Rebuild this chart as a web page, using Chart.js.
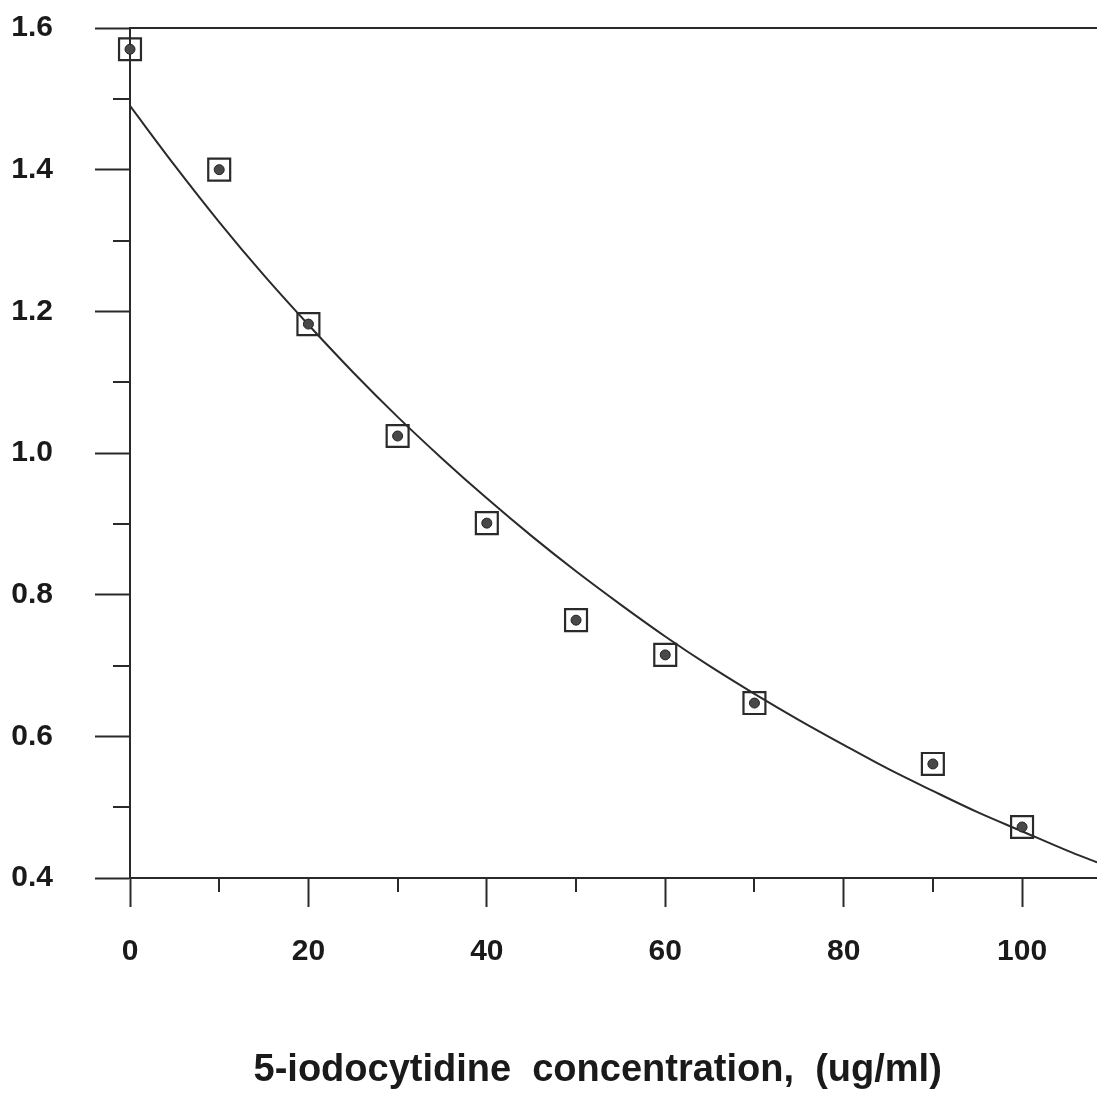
<!DOCTYPE html>
<html>
<head>
<meta charset="utf-8">
<script src="https://cdn.jsdelivr.net/npm/chart.js@4.4.1/dist/chart.umd.min.js"></script>
<style>
  html, body { margin: 0; padding: 0; background: #fff; }
  #wrap { width: 1097px; height: 1093px; }
</style>
</head>
<body>
<div id="wrap"><canvas id="grafico"></canvas></div>
<script>
// measured points
const concentracao = [0, 10, 20, 30, 40, 50, 60, 70, 90, 100];
const absorbancia = [1.570, 1.400, 1.182, 1.024, 0.901, 0.764, 0.715, 0.647, 0.561, 0.472];

// fitted curve
const curvaX = [0, 5, 10, 15, 20, 25, 30, 35, 40, 45, 50, 55, 60, 65, 70, 75, 80, 85, 90, 95, 100, 105, 108.4];
const curvaY = [1.490, 1.406, 1.326, 1.251, 1.181, 1.114, 1.051, 0.992, 0.936, 0.883, 0.833, 0.786,
                0.741, 0.699, 0.660, 0.623, 0.588, 0.554, 0.523, 0.493, 0.466, 0.439, 0.422];

const xMajor = [0, 20, 40, 60, 80, 100];
const xMinor = [10, 30, 50, 70, 90];
const yMajor = [0.4, 0.6, 0.8, 1.0, 1.2, 1.4, 1.6];
const yMinor = [0.5, 0.7, 0.9, 1.1, 1.3, 1.5];

// trailing spaces nudge the centred title a little to the left, as in the original
const tituloX = '5-iodocytidine  concentration,  (ug/ml)   ';

const tinta = '#2a2a2a';
const fonte = "'Liberation Sans', Arial, sans-serif";

const pontos = concentracao.map((x, i) => ({ x: x, y: absorbancia[i] }));
const curva = curvaX.map((x, i) => ({ x: x, y: curvaY[i] }));

// short minor ticks on both axes
const marcasMenores = {
  id: 'marcasMenores',
  afterDraw(chart) {
    const ctx = chart.ctx;
    const sx = chart.scales.x;
    const sy = chart.scales.y;
    ctx.save();
    ctx.strokeStyle = tinta;
    ctx.lineWidth = 2;
    ctx.beginPath();
    xMinor.forEach(v => {
      const px = Math.round(sx.getPixelForValue(v));
      ctx.moveTo(px, sx.top);
      ctx.lineTo(px, sx.top + 14);
    });
    yMinor.forEach(v => {
      const py = Math.round(sy.getPixelForValue(v));
      ctx.moveTo(sy.right, py);
      ctx.lineTo(sy.right - 17, py);
    });
    ctx.stroke();
    ctx.restore();
  }
};

new Chart(document.getElementById('grafico'), {
  type: 'scatter',
  data: {
    datasets: [
      {
        type: 'line',
        label: 'ajuste',
        data: curva,
        borderColor: tinta,
        borderWidth: 2,
        pointRadius: 0,
        fill: false,
        cubicInterpolationMode: 'monotone',
        order: 3
      },
      {
        label: 'caixa',
        data: pontos,
        pointStyle: 'rect',
        pointRadius: 15.5,
        pointHoverRadius: 15.5,
        backgroundColor: 'rgba(255,255,255,0)',
        borderColor: tinta,
        borderWidth: 2.2,
        clip: false,
        order: 2
      },
      {
        label: 'ponto',
        data: pontos,
        pointStyle: 'circle',
        pointRadius: 5,
        backgroundColor: '#484848',
        borderColor: '#222',
        borderWidth: 1,
        clip: false,
        order: 1
      }
    ]
  },
  options: {
    responsive: true,
    maintainAspectRatio: false,
    animation: false,
    layout: { padding: 0, autoPadding: false },
    plugins: {
      legend: { display: false },
      tooltip: { enabled: false }
    },
    scales: {
      x: {
        type: 'linear',
        position: 'bottom',
        min: 0,
        max: 108.4,
        afterBuildTicks: s => { s.ticks = xMajor.map(v => ({ value: v })); },
        afterFit: s => { s.height = 215; s.paddingLeft = 0; s.paddingRight = 0; },
        grid: {
          display: true,
          drawOnChartArea: false,
          drawTicks: true,
          tickLength: 29,
          tickColor: tinta,
          tickWidth: 2
        },
        border: { display: true, color: tinta, width: 2 },
        ticks: {
          color: '#1a1a1a',
          padding: 27,
          maxRotation: 0,
          font: { family: fonte, size: 30, weight: 'bold' }
        },
        title: {
          display: true,
          text: tituloX,
          color: '#1a1a1a',
          padding: { top: 0, bottom: 0 },
          font: { family: fonte, size: 38, weight: 'bold' }
        }
      },
      topo: {
        type: 'linear',
        position: 'top',
        min: 0,
        max: 108.4,
        afterFit: s => { s.height = 28; },
        grid: { display: false },
        border: { display: true, color: tinta, width: 2 },
        ticks: { display: false }
      },
      y: {
        type: 'linear',
        position: 'left',
        min: 0.4,
        max: 1.6,
        afterBuildTicks: s => { s.ticks = yMajor.map(v => ({ value: v })); },
        afterFit: s => { s.width = 130; s.paddingTop = 0; s.paddingBottom = 0; },
        grid: {
          display: true,
          drawOnChartArea: false,
          drawTicks: true,
          tickLength: 35,
          tickColor: tinta,
          tickWidth: 2
        },
        border: { display: true, color: tinta, width: 2 },
        ticks: {
          color: '#1a1a1a',
          padding: 42,
          font: { family: fonte, size: 30, weight: 'bold' },
          callback: v => v.toFixed(1)
        }
      }
    }
  },
  plugins: [marcasMenores]
});
</script>
</body>
</html>
